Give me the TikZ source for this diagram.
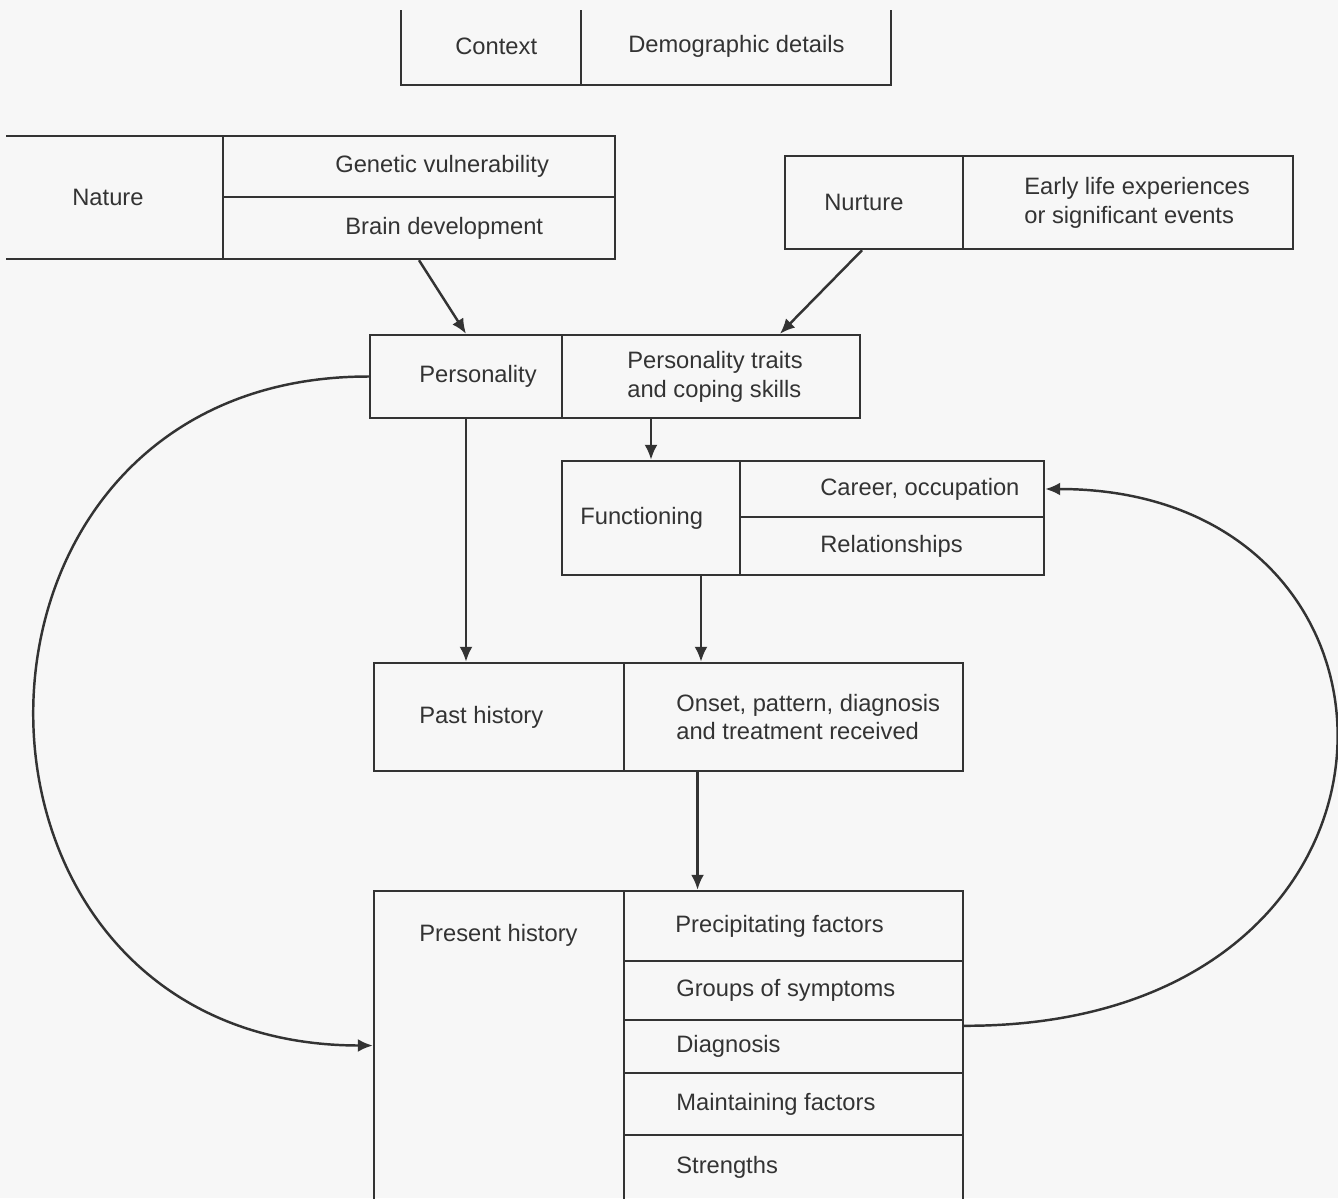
\documentclass[tikz,border=0pt]{standalone}
\usepackage{fontspec}
\setmainfont{Liberation Sans}
\usetikzlibrary{arrows.meta,calc}

\definecolor{ink}{HTML}{333333}
\definecolor{paper}{HTML}{F7F7F7}

\tikzset{
  cell/.style={draw=ink, line width=1.4pt, inner sep=0pt},
  celltext/.style={anchor=west, inner sep=0pt, text=ink, align=left,
    font=\fontsize{13.5}{16.5}\selectfont},
  flow/.style={draw=ink, line width=1.4pt, -{Latex[length=3mm,width=2.6mm]}},
}

% box from (x1,y1) to (x2,y2), text starting at x
\newcommand{\cellbox}[7]{%
  \node[cell, minimum width={(#4-#2)*0.02cm}, minimum height={(#5-#3)*0.02cm}]
    (#1) at ({(#2+#4)/2},{(#3+#5)/2}) {};
  \node[celltext] (#1-t) at (#6,{(#3+#5)/2}) {#7};}

\begin{document}
\begin{tikzpicture}[x=0.02cm,y=-0.02cm]
    \fill[paper] (0,0) rectangle (1338,1198);
    \useasboundingbox (0,0) rectangle (1338,1198);
    \clip (6,10) rectangle (1338,1198);

    % context
    \cellbox{context}{401}{8}{581}{85}{455}{Context}
    \cellbox{demog}{581}{8}{891}{85}{628}{Demographic details}

    % nature and nurture
    \cellbox{nature}{-7}{136}{223}{259}{72}{Nature}
    \cellbox{genetic}{223}{136}{615}{197}{335}{Genetic vulnerability}
    \cellbox{brain}{223}{197}{615}{259}{345}{Brain development}
    \cellbox{nurture}{785}{156}{963}{249}{824}{Nurture}
    \cellbox{early}{963}{156}{1293}{249}{1024}{Early life experiences\\or significant events}

    % personality and functioning
    \cellbox{pers}{370}{335}{562}{418}{419}{Personality}
    \cellbox{traits}{562}{335}{860}{418}{627}{Personality traits\\and coping skills}
    \cellbox{func}{562}{461}{740}{575}{580}{Functioning}
    \cellbox{career}{740}{461}{1044}{517}{820}{Career, occupation}
    \cellbox{relat}{740}{517}{1044}{575}{820}{Relationships}

    % past history
    \cellbox{past}{374}{663}{624}{771}{419}{Past history}
    \cellbox{onset}{624}{663}{963}{771}{676}{Onset, pattern, diagnosis\\and treatment received}

    % present history
    \node[cell, minimum width={250*0.02cm}, minimum height={309*0.02cm}]
      (prest) at (499,1045.5) {};
    \node[celltext] (prest-t) at (419,935) {Present history};
    \cellbox{precip}{624}{891}{963}{961}{675}{Precipitating factors}
    \cellbox{groups}{624}{961}{963}{1020}{676}{Groups of symptoms}
    \cellbox{diag}{624}{1020}{963}{1073}{676}{Diagnosis}
    \cellbox{maint}{624}{1073}{963}{1135}{676}{Maintaining factors}
    \cellbox{strength}{624}{1135}{963}{1200}{676}{Strengths}

    % connectors
    \draw[flow] (brain.south) -- (pers.north);
    \draw[flow] ([xshift=-0.24cm]nurture.south) -- ([xshift=1.38cm]traits.north);
    \draw[flow] (func.north |- traits.south) -- (func.north);
    \draw[flow] (pers.south) -- (pers.south |- past.north);
    \draw[flow] ([xshift=1cm]func.south) -- ([xshift=1cm]func.south |- onset.north);
    \draw[flow] ([xshift=-1.92cm]onset.south) -- ([xshift=-1.92cm]onset.south |- precip.north);
    \draw[flow] (pers.west) .. controls (-77,376) and (-77,1045) .. (prest.west);
    \draw[flow] ([yshift=-0.14cm]diag.north east) .. controls (1445,1027) and (1445,489) .. (career.east);
\end{tikzpicture}
\end{document}
